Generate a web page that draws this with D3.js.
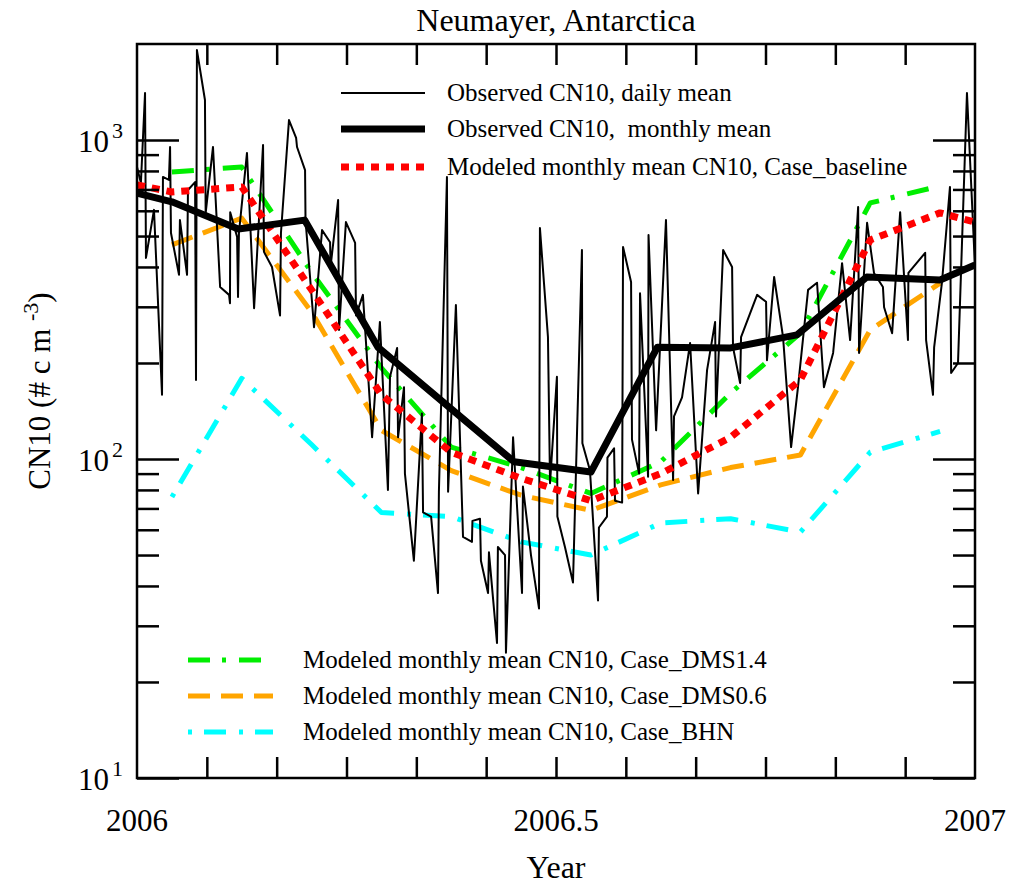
<html>
<head>
<style>
  body { margin: 0; background: #fff; }
  text { font-family: "Liberation Serif", "Times New Roman", serif; fill: #000; }
</style>
<script src="https://d3js.org/d3.v7.min.js"></script>
</head>
<body>
<svg id="chart" width="1024" height="886"></svg>
<script>
// daily observed CN10: [day of year, #/cm3]
const dailyObs = [[0,823],[1.7,733],[3.5,1404],[3.9,427],[7.4,604],[10.9,159],[11.3,766],[13.9,750],[14.4,951],[14.8,511],
  [18.3,378],[18.7,561],[21.8,378],[22.2,697],[25.3,738],[25.7,177],[26.1,1914],[29.6,1335],[29.9,590],[33.1,951],
  [36.2,346],[40.1,327],[40.5,308],[40.6,594],[43.6,497],[44.0,322],[44.4,511],[47.9,911],[51.0,297],[54.9,964],
  [55.3,446],[58.8,400],[62.3,282],[62.7,511],[66.2,1155],[69.3,1015],[69.7,951],[73.2,805],[73.4,561],[77.1,259],
  [77.5,279],[80.6,522],[84.1,478],[84.3,400],[87.6,649],[88.0,254],[91.0,553],[95.0,476],[95.4,282],[98.4,327],
  [102.4,117],[105.8,269],[109.3,80],[110.2,181],[113.3,223],[113.7,117],[116.3,168],[116.7,90],[120.6,48],[124.1,139],
  [124.6,68],[128.1,66],[131.1,38],[131.5,79],[135.0,766],[135.5,79],[138.9,304],[142.0,57],[145.9,55],[146.1,64],
  [149.4,65],[149.8,48],[152.9,38],[153.3,51],[156.8,26.5],[157.2,53],[160.3,50],[160.7,24.7],[163.8,117],[167.7,38],
  [168.1,82],[171.6,50],[175.1,34],[175.5,530],[179.0,241],[179.9,84],[182.9,181],[183.1,66],[186.4,53],[189.9,41],
  [193.8,452],[194.0,112],[197.3,92],[200.8,36],[201.2,61],[204.7,66],[204.9,101],[207.8,108],[208.2,74],[211.3,73],
  [211.7,462],[215.2,359],[215.6,115],[218.7,90],[219.1,331],[222.6,88],[222.8,504],[226.1,123],[230.4,561],[233.5,86],
  [233.9,136],[237.4,156],[240.9,231],[244.4,78],[248.3,190],[251.8,269],[252.2,136],[255.3,452],[259.2,400],[259.6,224],
  [262.7,173],[263.1,241],[270.1,327],[274.0,311],[274.4,204],[277.5,372],[281.4,241],[284.9,109],[287.9,168],[292.3,339],
  [296.2,357],[299.2,168],[303.2,215],[307.1,411],[310.6,236],[314.1,617],[314.5,215],[318.0,550],[321.0,383],[324.9,346],
  [325.4,299],[328.9,248],[332.4,594],[335.8,236],[336.0,383],[343.3,443],[343.7,236],[346.7,159],[347.2,224],[350.6,357],
  [354.1,713],[354.6,186],[357.6,200],[361.5,1404],[365,400]];

// monthly series, time in months since 2006-01-01
const obsMonths = [0, 0.5, 1.45, 2.4, 3.45, 5.4, 6.5, 7.45, 8.5, 9.45, 10.45, 11.5, 12];
const obsMonthly = [682, 640, 526, 561, 224, 98, 91, 224, 223, 245, 372, 364, 406];

const baseMonths = [0, 0.5, 1.5, 2.5, 3.5, 4.5, 5.5, 6.5, 7.5, 8.5, 9.5, 10.5, 11.5, 12];
const caseBaseline = [723, 687, 713, 339, 159, 105, 87, 74, 90, 117, 177, 486, 591, 553];

const modelMonths = [0.5, 1.5, 2.5, 3.5, 4.5, 5.5, 6.5, 7.5, 8.5, 9.5, 10.5, 11.5];
const caseDMS14 = [794, 823, 385, 193, 109, 94, 78, 98, 161, 248, 635, 718];
const caseDMS06 = [469, 569, 289, 123, 92, 77, 69, 83, 94, 103, 254, 356];
const caseBHN   = [76, 179, 111, 68, 66, 55, 50, 63, 65, 59, 105, 122];

const yMajor = [10, 100, 1000];
const yMinor = [20,30,40,50,60,70,80,90,200,300,400,500,600,700,800,900];
const xLabels = [2006, 2006.5, 2007];

const plotLeft = 137, plotRight = 975, plotTop = 44, plotBottom = 778;
const svg = d3.select('#chart');

const x = d3.scaleLinear().domain([2006, 2007]).range([plotLeft, plotRight]);
const y = d3.scaleLog().domain([10, 2000]).range([plotBottom, plotTop]);

svg.append('defs').append('clipPath').attr('id', 'plotclip')
  .append('rect').attr('x', plotLeft).attr('y', plotTop)
  .attr('width', plotRight - plotLeft).attr('height', plotBottom - plotTop);

const plot = svg.append('g').attr('clip-path', 'url(#plotclip)');

const styles = {
  daily:    {stroke: '#000', width: 2, dash: null},
  monthly:  {stroke: '#000', width: 7, dash: null},
  baseline: {stroke: '#ff0000', width: 7, dash: '8,7'},
  dms14:    {stroke: '#00ee00', width: 5, dash: '22,12,4,13'},
  dms06:    {stroke: '#ffa500', width: 5, dash: '22,11'},
  bhn:      {stroke: '#00ffff', width: 5, dash: '4,12,22,13'}
};

function drawLine(data, st) {
  const p = plot.append('path')
    .datum(data)
    .attr('fill', 'none')
    .attr('stroke', st.stroke)
    .attr('stroke-width', st.width)
    .attr('stroke-linejoin', 'round')
    .attr('d', d3.line().x(d => x(d[0])).y(d => y(d[1])));
  if (st.dash) p.attr('stroke-dasharray', st.dash);
}

const fromDay = d => [2006 + d[0] / 365, d[1]];
const fromMonth = (ms, vs) => ms.map((m, i) => [2006 + m / 12, vs[i]]);

drawLine(fromMonth(modelMonths, caseBHN), styles.bhn);
drawLine(fromMonth(modelMonths, caseDMS06), styles.dms06);
drawLine(fromMonth(modelMonths, caseDMS14), styles.dms14);
drawLine(dailyObs.map(fromDay), styles.daily);
drawLine(fromMonth(baseMonths, caseBaseline), styles.baseline);
drawLine(fromMonth(obsMonths, obsMonthly), styles.monthly);

// axes: inward ticks on all four sides
const monthTicks = d3.range(1, 12).map(m => 2006 + m / 12);
function styleAxis(g) {
  g.select('.domain').remove();
  g.selectAll('.tick line').attr('stroke', '#000').attr('stroke-width', 2.5);
  g.selectAll('.tick text').remove();
}
svg.append('g').attr('transform', `translate(0,${plotBottom})`)
  .call(d3.axisBottom(x).tickValues(monthTicks).tickSize(-21)).call(styleAxis);
svg.append('g').attr('transform', `translate(0,${plotTop})`)
  .call(d3.axisTop(x).tickValues(monthTicks).tickSize(-21)).call(styleAxis);
svg.append('g').attr('transform', `translate(${plotLeft},0)`)
  .call(d3.axisLeft(y).tickValues(yMajor).tickSize(-42)).call(styleAxis);
svg.append('g').attr('transform', `translate(${plotLeft},0)`)
  .call(d3.axisLeft(y).tickValues(yMinor).tickSize(-22)).call(styleAxis);
svg.append('g').attr('transform', `translate(${plotRight},0)`)
  .call(d3.axisRight(y).tickValues(yMajor).tickSize(-42)).call(styleAxis);
svg.append('g').attr('transform', `translate(${plotRight},0)`)
  .call(d3.axisRight(y).tickValues(yMinor).tickSize(-22)).call(styleAxis);

svg.append('rect')
  .attr('x', plotLeft).attr('y', plotTop)
  .attr('width', plotRight - plotLeft).attr('height', plotBottom - plotTop)
  .attr('fill', 'none').attr('stroke', '#000').attr('stroke-width', 2.5);

// tick labels
svg.selectAll('.xlab').data(xLabels).enter().append('text')
  .attr('x', d => x(d)).attr('y', 831)
  .attr('text-anchor', 'middle').style('font-size', '31px')
  .text(d => d);

yMajor.forEach(v => {
  const t = svg.append('text').attr('x', 123).attr('y', y(v) + 12)
    .attr('text-anchor', 'end').style('font-size', '31px');
  t.append('tspan').text('10');
  t.append('tspan').attr('dy', -14).attr('dx', 3).style('font-size', '22px').text(Math.round(Math.log10(v)));
});

// titles
svg.append('text').attr('x', 556).attr('y', 31).attr('text-anchor', 'middle')
  .style('font-size', '32px').text('Neumayer, Antarctica');
svg.append('text').attr('x', 556).attr('y', 878).attr('text-anchor', 'middle')
  .style('font-size', '32px').text('Year');

const yl = svg.append('text').attr('transform', 'translate(50,391) rotate(-90)')
  .attr('text-anchor', 'middle').style('font-size', '31px');
yl.append('tspan').text('CN10 (# c m ');
yl.append('tspan').attr('dy', -12).style('font-size', '22px').text('-3');
yl.append('tspan').attr('dy', 12).text(')');

// legends
const legendTop = [
  {label: 'Observed CN10, daily mean', st: styles.daily, y: 93},
  {label: 'Observed CN10,\u00a0 monthly mean', st: styles.monthly, y: 129},
  {label: 'Modeled monthly mean CN10, Case_baseline', st: styles.baseline, y: 167}
];
const legendBottom = [
  {label: 'Modeled monthly mean CN10, Case_DMS1.4', st: styles.dms14, y: 660},
  {label: 'Modeled monthly mean CN10, Case_DMS0.6', st: styles.dms06, y: 696},
  {label: 'Modeled monthly mean CN10, Case_BHN', st: styles.bhn, y: 732}
];
function drawLegend(items, x0, x1, tx) {
  items.forEach(it => {
    const l = svg.append('line').attr('x1', x0).attr('x2', x1).attr('y1', it.y).attr('y2', it.y)
      .attr('stroke', it.st.stroke).attr('stroke-width', it.st.width);
    if (it.st.dash) l.attr('stroke-dasharray', it.st.dash);
    svg.append('text').attr('x', tx).attr('y', it.y + 8).style('font-size', '25px').text(it.label);
  });
}
drawLegend(legendTop, 341, 425, 447);
drawLegend(legendBottom, 188, 273, 303);
</script>
</body>
</html>
